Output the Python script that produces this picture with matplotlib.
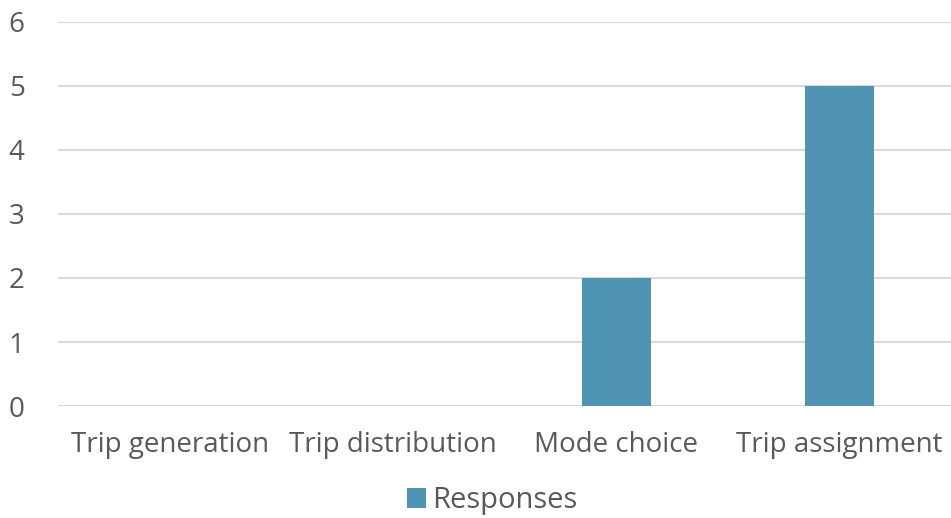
import matplotlib.pyplot as plt

# survey results per modelling step
categories = ['Trip generation', 'Trip distribution', 'Mode choice', 'Trip assignment']
responses = [0, 0, 2, 5]
y_ticks = [0, 1, 2, 3, 4, 5, 6]

plt.rcParams['font.family'] = ['Open Sans', 'DejaVu Sans']

fig = plt.figure(figsize=(9.51, 5.18), dpi=100)
ax = fig.add_axes([0.061, 0.216, 0.939, 0.742])

x = list(range(len(categories)))
ax.bar(x, responses, width=0.31, color='#5094B4', label='Responses', zorder=3)

ax.set_xlim(-0.5, len(categories) - 0.5)
ax.set_ylim(0, 6)
ax.set_yticks(y_ticks)
ax.set_xticks(x)
ax.set_xticklabels(categories)

ax.grid(axis='y', color='#D9D9D9', linewidth=1.5, zorder=0)
for side in ['top', 'right', 'left', 'bottom']:
    ax.spines[side].set_visible(False)
ax.tick_params(axis='both', length=0, colors='#595959', labelsize=20)
ax.tick_params(axis='x', pad=18)
ax.tick_params(axis='y', pad=24)

ax.legend(loc='lower center', bbox_to_anchor=(0.486, -0.352), frameon=False,
          fontsize=21, labelcolor='#595959', handlelength=0.65, handleheight=0.65,
          handletextpad=0.2)

plt.savefig('out.png', dpi=100)
